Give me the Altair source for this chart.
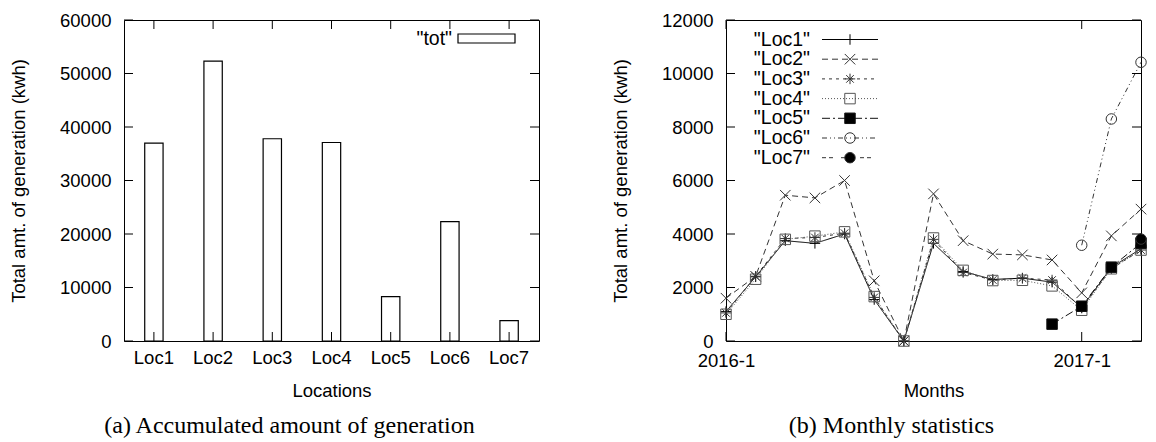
import altair as alt
import pandas as pd

# ---------------- data ----------------
locations = ["Loc1", "Loc2", "Loc3", "Loc4", "Loc5", "Loc6", "Loc7"]
totals = [37000, 52300, 37800, 37100, 8300, 22300, 3800]

months = ["2016-1", "2016-2", "2016-3", "2016-4", "2016-5", "2016-6", "2016-7",
          "2016-8", "2016-9", "2016-10", "2016-11", "2016-12",
          "2017-1", "2017-2", "2017-3"]
loc1 = [1100, 2400, 3750, 3650, 4000, 1550, 0, 3650, 2600, 2300, 2350, 2200, 1250, 2750, 3450]
loc2 = [1600, 2420, 5450, 5350, 6000, 2250, 0, 5500, 3750, 3250, 3220, 3030, 1800, 3930, 4930]
loc3 = [1050, 2420, 3830, 3870, 4030, 1630, 0, 3800, 2560, 2280, 2350, 2280, 1230, 2700, 3400]
loc4 = [1000, 2310, 3800, 3920, 4080, 1660, 0, 3850, 2640, 2260, 2270, 2060, 1150, 2700, 3400]
loc5 = [None] * 11 + [630, 1300, 2760, 3660]
loc6 = [None] * 12 + [3580, 8300, 10420]
loc7 = [None] * 14 + [3810]
series = [loc1, loc2, loc3, loc4, loc5, loc6, loc7]

y_ticks_a = [0, 10000, 20000, 30000, 40000, 50000, 60000]
y_ticks_b = [0, 2000, 4000, 6000, 8000, 10000, 12000]
x_ticks_b = ["2016-1", "2017-1"]

# ---------------- style ----------------
W, H = 415, 321
FONT = "Liberation Sans"
SERIF = "Liberation Serif"
FS = 18.5
CAP_FS = 24
TICK = 9

# ================= panel (a) =================
bars_df = pd.DataFrame({"loc": locations, "total": totals})
ytick_a_df = pd.DataFrame({"total": y_ticks_a})
tot_df = pd.DataFrame({"label": ['"tot"']})

xa = alt.X("loc:N", sort=locations,
           scale=alt.Scale(paddingInner=0.69, paddingOuter=0.35),
           axis=alt.Axis(title="Locations", ticks=False, tickSize=0, domain=False,
                         labelAngle=0, labelPadding=7, titlePadding=15))
ya = alt.Y("total:Q", scale=alt.Scale(domain=[0, 60000], nice=False, zero=True),
           axis=alt.Axis(title="Total amt. of generation (kwh)", values=y_ticks_a, format="d",
                         ticks=False, tickSize=0, domain=False, grid=False,
                         labelPadding=13, titlePadding=31))

bars = alt.Chart(bars_df).mark_bar(fill="white", stroke="black", strokeWidth=1.2).encode(x=xa, y=ya)
ya_l = alt.Chart(ytick_a_df).mark_rule(color="black").encode(y=ya, x=alt.value(0), x2=alt.value(TICK))
ya_r = alt.Chart(ytick_a_df).mark_rule(color="black").encode(y=ya, x=alt.value(W), x2=alt.value(W - TICK))
xa_b = alt.Chart(bars_df).mark_rule(color="black").encode(x=xa, y=alt.value(H), y2=alt.value(H - TICK))
xa_t = alt.Chart(bars_df).mark_rule(color="black").encode(x=xa, y=alt.value(0), y2=alt.value(TICK))
tot_text = alt.Chart(tot_df).mark_text(align="right", baseline="middle", font=FONT, fontSize=19.5,
                                       color="black").encode(
    text="label:N", x=alt.value(328), y=alt.value(18.5))
tot_box = alt.Chart(tot_df).mark_rect(fill="white", stroke="black", strokeWidth=1.2).encode(
    x=alt.value(334), x2=alt.value(391), y=alt.value(14), y2=alt.value(23))

panel_a = alt.layer(bars, ya_l, ya_r, xa_b, xa_t, tot_box, tot_text).properties(
    width=W, height=H,
    title=alt.TitleParams(text="(a) Accumulated amount of generation", orient="bottom",
                          font=SERIF, fontSize=CAP_FS, fontWeight="normal", anchor="middle",
                          frame="group", dx=-42, offset=14, color="black"))

# ================= panel (b) =================
rows = []
for name, vals in zip(locations, series):
    for m, v in zip(months, vals):
        if v is not None:
            rows.append({"name": name, "month": m, "value": v})
line_df = pd.DataFrame(rows)
ytick_b_df = pd.DataFrame({"value": y_ticks_b})
xtick_b_df = pd.DataFrame({"month": x_ticks_b})

legend_df = pd.DataFrame({"name": locations, "label": ['"%s"' % n for n in locations]})
legend_df["ly"] = [19.5 + 19.7 * i for i in range(len(locations))]

dash_scale = alt.Scale(domain=locations,
                       range=[[1, 0], [6, 4], [3, 4], [1, 2], [8, 3, 2, 3], [5, 3, 1, 3, 1, 3], [4, 3, 4, 8]])
stroke_scale = alt.Scale(domain=locations,
                         range=["#000000", "#333333", "#333333", "#555555", "#111111", "#333333", "#333333"])
shape_scale = alt.Scale(domain=locations,
                        range=["M-1,0L1,0M0,-1L0,1",
                               "M-1,-1L1,1M-1,1L1,-1",
                               "M-1,0L1,0M0,-1L0,1M-0.72,-0.72L0.72,0.72M-0.72,0.72L0.72,-0.72",
                               "square", "square", "circle", "circle"])
fill_scale = alt.Scale(domain=locations,
                       range=["transparent", "transparent", "transparent", "transparent",
                              "black", "transparent", "black"])

xb = alt.X("month:O", sort=months, scale=alt.Scale(type="point", padding=0),
           axis=alt.Axis(title="Months", values=x_ticks_b, labelAngle=0, ticks=False, tickSize=0,
                         domain=False, labelPadding=10, titlePadding=12))
yb = alt.Y("value:Q", scale=alt.Scale(domain=[0, 12000], nice=False, zero=True),
           axis=alt.Axis(title="Total amt. of generation (kwh)", values=y_ticks_b, format="d",
                         ticks=False, tickSize=0, domain=False, grid=False,
                         labelPadding=13, titlePadding=31))

enc_stroke = alt.Stroke("name:N", scale=stroke_scale, legend=None)
enc_dash = alt.StrokeDash("name:N", scale=dash_scale, legend=None)
enc_shape = alt.Shape("name:N", scale=shape_scale, legend=None)
enc_fill = alt.Fill("name:N", scale=fill_scale, legend=None)

lines = alt.Chart(line_df).mark_line(strokeWidth=1).encode(
    x=xb, y=yb, stroke=enc_stroke, strokeDash=enc_dash, detail="name:N")
points = alt.Chart(line_df).mark_point(size=110, strokeWidth=1, opacity=1).encode(
    x=xb, y=yb, shape=enc_shape, stroke=enc_stroke, fill=enc_fill)

yb_l = alt.Chart(ytick_b_df).mark_rule(color="black").encode(y=yb, x=alt.value(0), x2=alt.value(TICK))
yb_r = alt.Chart(ytick_b_df).mark_rule(color="black").encode(y=yb, x=alt.value(W), x2=alt.value(W - TICK))
xb_b = alt.Chart(xtick_b_df).mark_rule(color="black").encode(x=xb, y=alt.value(H), y2=alt.value(H - TICK))
xb_t = alt.Chart(xtick_b_df).mark_rule(color="black").encode(x=xb, y=alt.value(0), y2=alt.value(TICK))

ly = alt.Y("ly:Q", scale=None, axis=None)
leg_text = alt.Chart(legend_df).mark_text(align="right", baseline="middle", font=FONT, fontSize=19.5,
                                          color="black").encode(
    text="label:N", x=alt.value(84), y=ly)
leg_line = alt.Chart(legend_df).mark_rule(strokeWidth=1).encode(
    x=alt.value(96), x2=alt.value(152), y=ly, stroke=enc_stroke, strokeDash=enc_dash)
leg_pts = alt.Chart(legend_df).mark_point(size=110, strokeWidth=1, opacity=1).encode(
    x=alt.value(124), y=ly, shape=enc_shape, stroke=enc_stroke, fill=enc_fill)

panel_b = alt.layer(lines, points, yb_l, yb_r, xb_b, xb_t, leg_line, leg_pts, leg_text).properties(
    width=W, height=H,
    title=alt.TitleParams(text="(b) Monthly statistics", orient="bottom",
                          font=SERIF, fontSize=CAP_FS, fontWeight="normal", anchor="middle",
                          frame="group", dx=-42, offset=14, color="black"))

chart = alt.hconcat(panel_a, panel_b, spacing=71).properties(
    padding={"left": 9, "top": 10, "right": 0, "bottom": 0},
    background="white"
).configure_view(
    stroke="black", strokeWidth=1
).configure_axis(
    labelFont=FONT, labelFontSize=FS, labelColor="black",
    titleFont=FONT, titleFontSize=FS, titleFontWeight="normal", titleColor="black"
)

chart.save("out.html", embed_options={"renderer": "svg", "actions": False})
